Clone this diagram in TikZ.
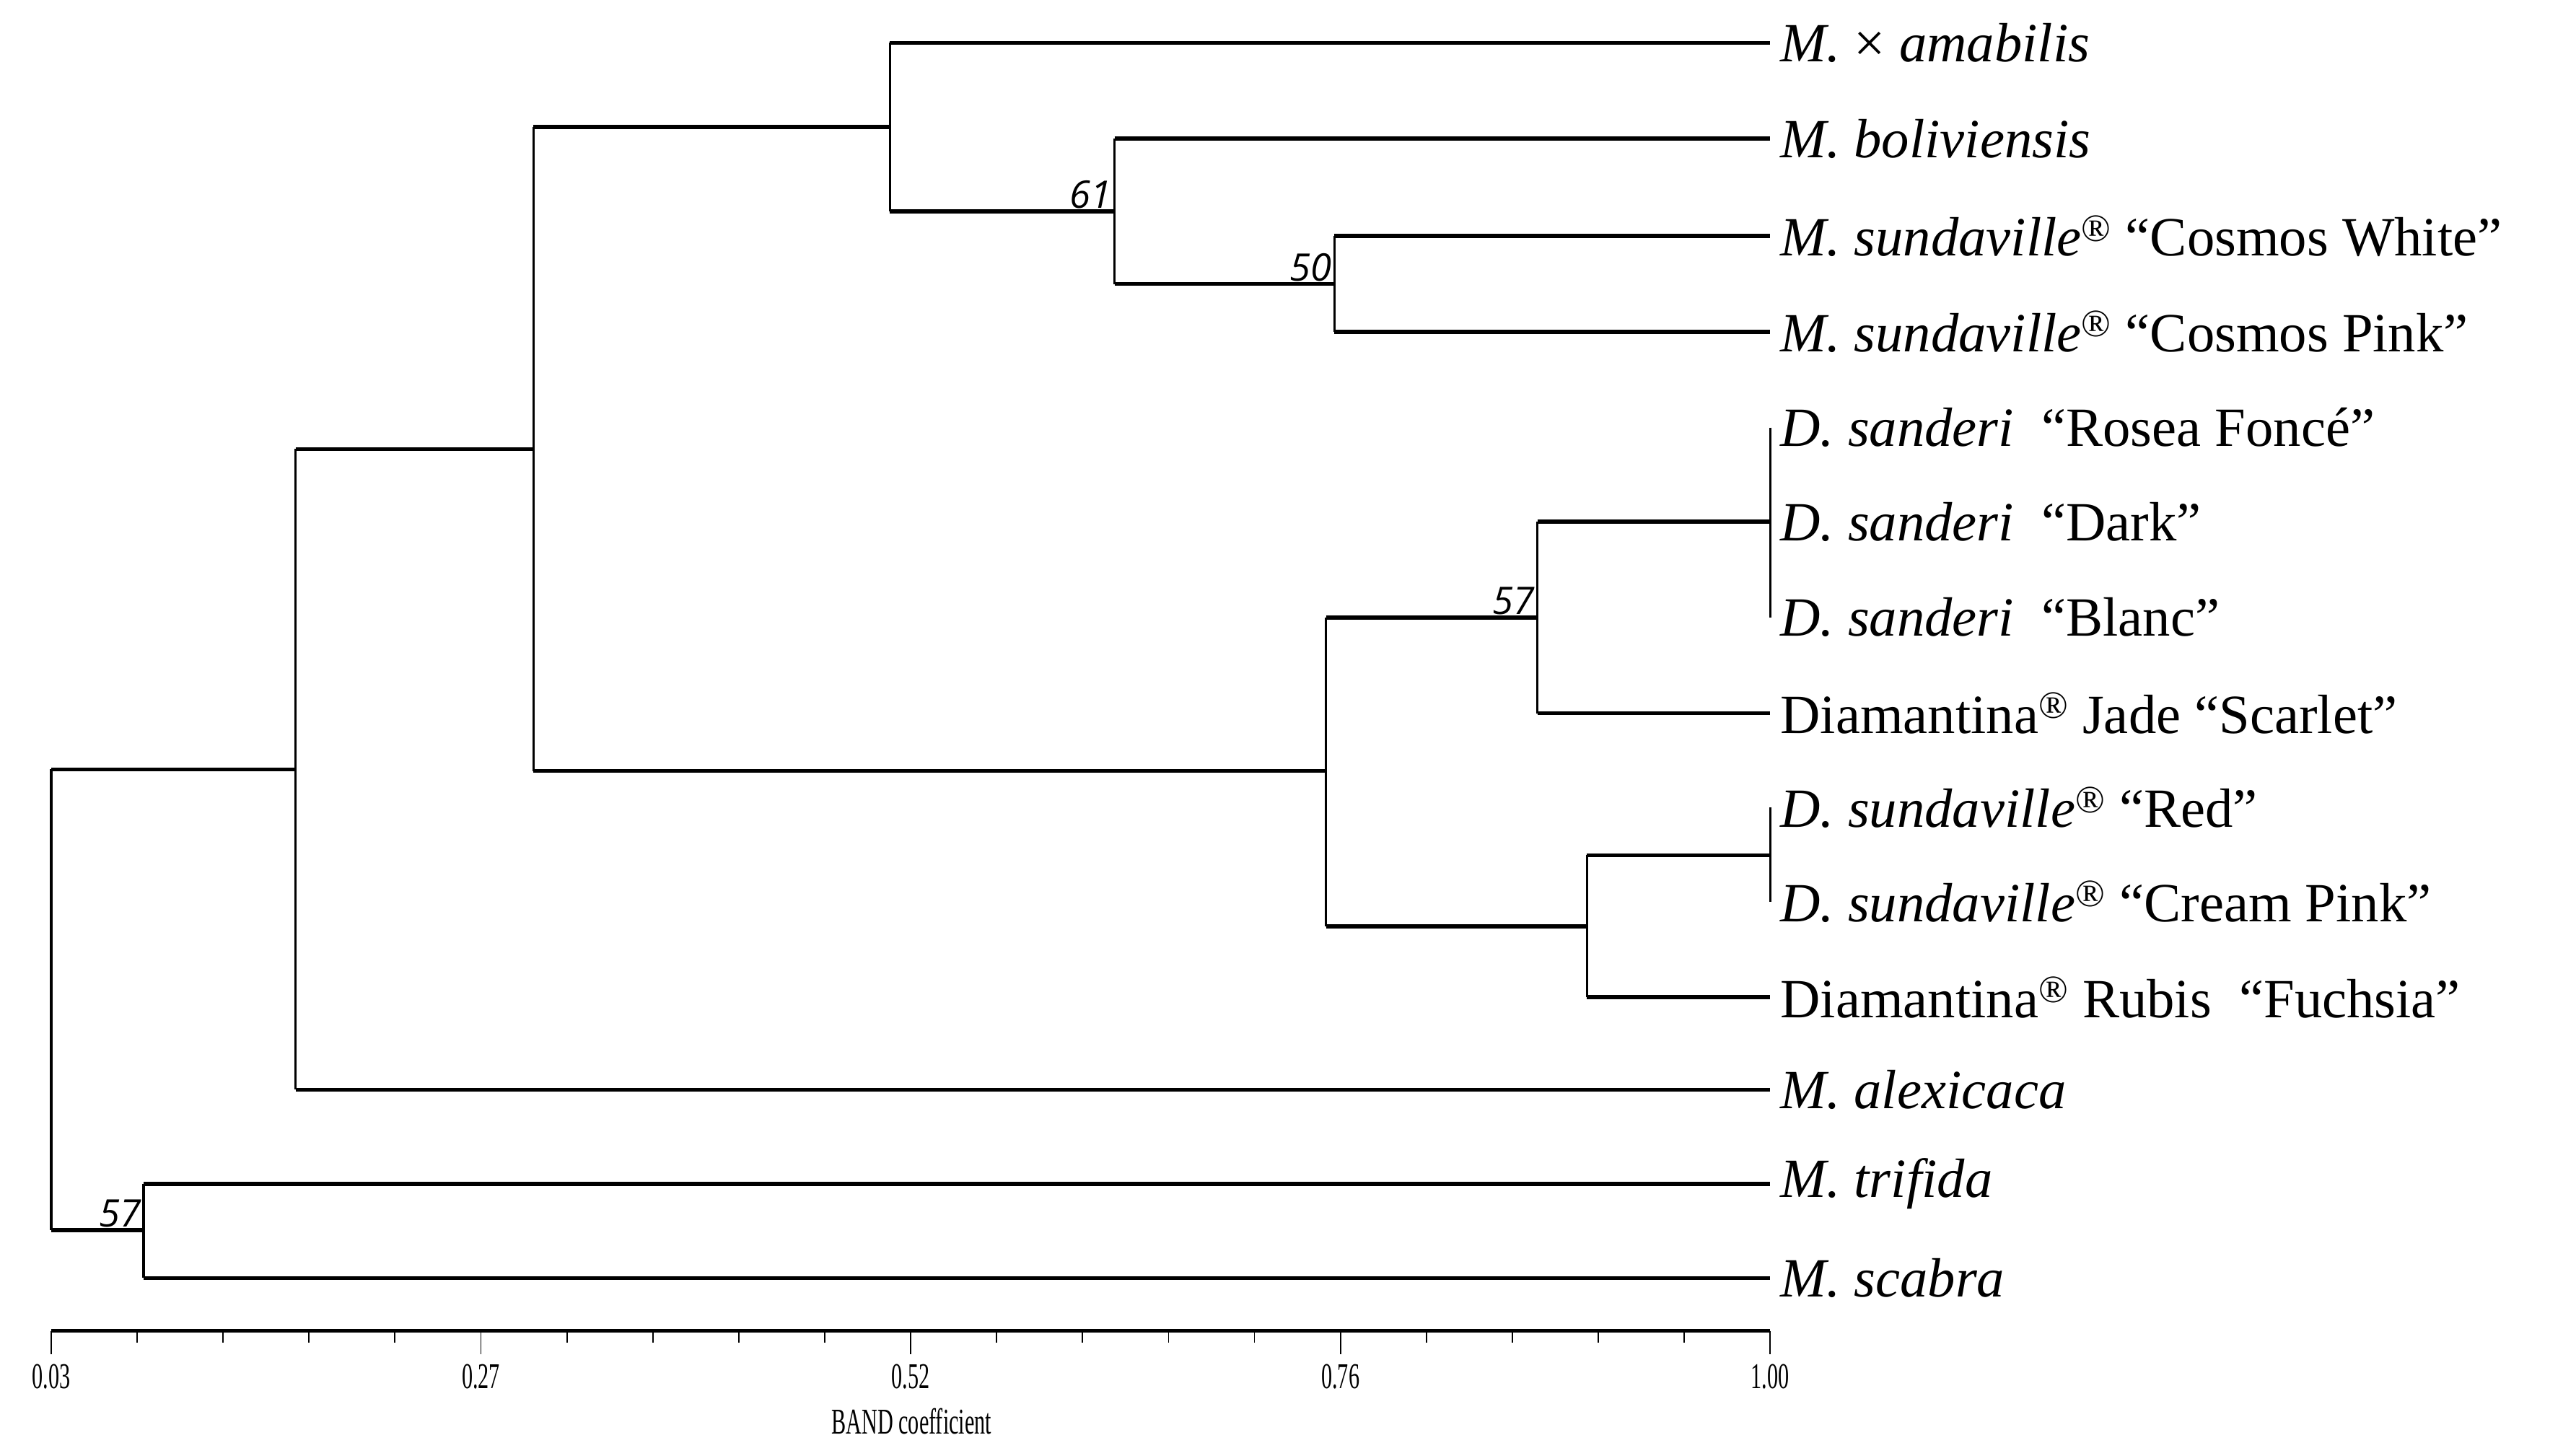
\documentclass[tikz,border=0pt]{standalone}
\usepackage{fontspec}
\setmainfont{Liberation Serif}
\newfontfamily\bootfont{Open Sans}
\begin{document}
\begin{tikzpicture}[x=1pt,y=-1pt,
  hl/.style={line width=2.4pt},
  vl/.style={line width=1.4pt},
  lab/.style={anchor=west,inner sep=0pt,font=\fontsize{33.5}{36}\selectfont},
  boot/.style={anchor=south east,inner sep=1.5pt,font=\bootfont\itshape\fontsize{23}{26}\selectfont},
  tk/.style={font=\fontsize{22}{24}\selectfont,inner sep=0pt}]
\useasboundingbox (0,0) rectangle (1560,877);
% leaves
\foreach \n/\y in {a/26,b/84,c/143,d/201,e/259,f/316,g/374,h/432,i/489,j/546,k/604,l/660,m/717,n/774}
  \coordinate (\n) at (1072,\y);
\node[lab] (ta) at (1078,26) {\textit{M.} × \textit{amabilis}};
\node[lab] (tb) at (1078,84) {\textit{M. boliviensis}};
\node[lab] (tc) at (1078,143) {\textit{M. sundaville}\textsuperscript{®} “Cosmos White”};
\node[lab] (td) at (1078,201) {\textit{M. sundaville}\textsuperscript{®} “Cosmos Pink”};
\node[lab] (te) at (1078,259) {\textit{D. sanderi}\ \ “Rosea Foncé”};
\node[lab] (tf) at (1078,316) {\textit{D. sanderi}\ \ “Dark”};
\node[lab] (tg) at (1078,374) {\textit{D. sanderi}\ \ “Blanc”};
\node[lab] (th) at (1078,432) {Diamantina\textsuperscript{®} Jade “Scarlet”};
\node[lab] (ti) at (1078,489) {\textit{D. sundaville}\textsuperscript{®} “Red”};
\node[lab] (tj) at (1078,546) {\textit{D. sundaville}\textsuperscript{®} “Cream Pink”};
\node[lab] (tk) at (1078,604) {Diamantina\textsuperscript{®} Rubis\ \ “Fuchsia”};
\node[lab] (tl) at (1078,660) {\textit{M. alexicaca}};
\node[lab] (tm) at (1078,717) {\textit{M. trifida}};
\node[lab] (tn) at (1078,774) {\textit{M. scabra}};
% internal nodes
\coordinate (n50) at (808,172);
\coordinate (n61) at (675,128);
\coordinate (n1) at (539,77);
\coordinate (nD) at (1072,316);
\coordinate (n57) at (931,374);
\coordinate (nR) at (1072,518);
\coordinate (nF) at (961,561);
\coordinate (nDD) at (803,467);
\coordinate (nT) at (323,272);
\coordinate (nA) at (179,466);
\coordinate (nM) at (87,745);
\coordinate (root) at (31,606);
% edges
\draw[vl] (e) -- (g);
\draw[vl] (i) -- (j);
\draw[vl] (n50 |- c) -- (n50 |- d);
\draw[hl] (n50 |- c) -- (c); \draw[hl] (n50 |- d) -- (d);
\draw[vl] (n61 |- b) -- (n61 |- n50);
\draw[hl] (n61 |- b) -- (b); \draw[hl] (n61 |- n50) -- (n50);
\draw[vl] (n1 |- a) -- (n1 |- n61);
\draw[hl] (n1 |- a) -- (a); \draw[hl] (n1 |- n61) -- (n61);
\draw[vl] (n57 |- nD) -- (n57 |- h);
\draw[hl] (n57 |- nD) -- (nD); \draw[hl] (n57 |- h) -- (h);
\draw[vl] (nF |- nR) -- (nF |- k);
\draw[hl] (nF |- nR) -- (nR); \draw[hl] (nF |- k) -- (k);
\draw[vl] (nDD |- n57) -- (nDD |- nF);
\draw[hl] (nDD |- n57) -- (n57); \draw[hl] (nDD |- nF) -- (nF);
\draw[vl] (nT |- n1) -- (nT |- nDD);
\draw[hl] (nT |- n1) -- (n1); \draw[hl] (nT |- nDD) -- (nDD);
\draw[vl] (nA |- nT) -- (nA |- l);
\draw[hl] (nA |- nT) -- (nT); \draw[hl] (nA |- l) -- (l);
\draw[vl] (nM |- m) -- (nM |- n);
\draw[hl] (nM |- m) -- (m); \draw[hl] (nM |- n) -- (n);
\draw[vl] (root |- nA) -- (root |- nM);
\draw[hl] (root |- nA) -- (nA); \draw[hl] (root |- nM) -- (nM);
% bootstrap
\node[boot] (b61) at (n61) {61};
\node[boot] (b50) at (n50) {50};
\node[boot] (b57) at (n57) {57};
\node[boot] (b57b) at (nM) {57};
% axis
\coordinate (ax0) at (31,806); \coordinate (ax1) at (1072,806);
\draw[line width=2pt] (ax0) -- (ax1);
\foreach \i in {0,...,20} {
  \pgfmathsetmacro\xx{31+\i*52.05}
  \pgfmathtruncatemacro\mj{mod(\i,5)==0 ? 1 : 0}
  \ifnum\mj=1 \draw[line width=0.8pt] (\xx,806) -- (\xx,820); \else \draw[line width=0.8pt] (\xx,806) -- (\xx,813); \fi
}
\foreach \i/\t in {0/0.03,5/0.27,10/0.52,15/0.76,20/1.00}
  \node[tk] (t\i) at (31+\i*52.05,834) {\scalebox{0.6}[1]{\t}};
\node[tk] (title) at (552,861) {\scalebox{0.6}[1]{BAND coefficient}};
\end{tikzpicture}
\end{document}
